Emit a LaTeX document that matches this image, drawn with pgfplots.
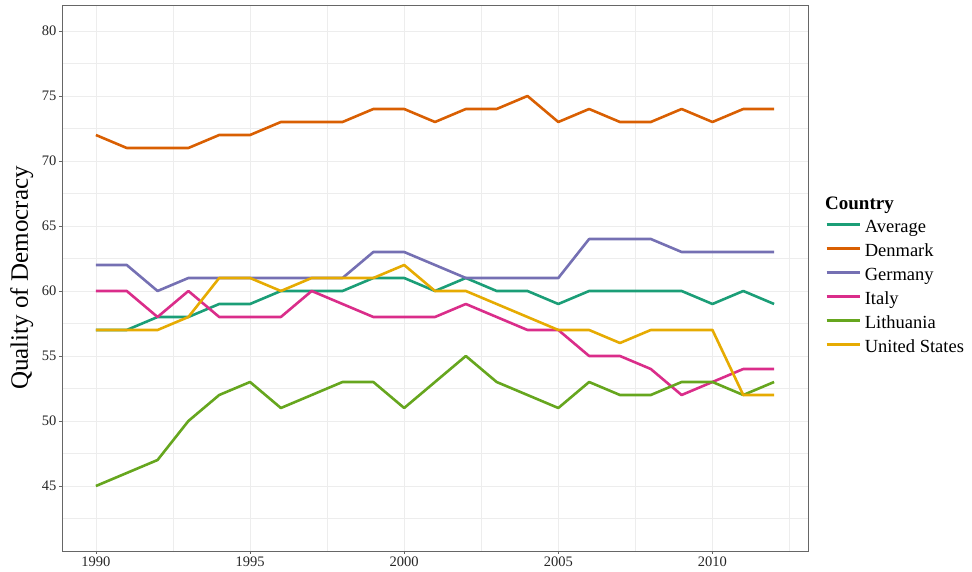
\documentclass[border=0pt]{standalone}
\usepackage{pgfplots}
\pgfplotsset{compat=1.18}
\usepackage{fontspec}
\setmainfont{Liberation Serif}
\definecolor{cavg}{HTML}{1B9E77}
\definecolor{cden}{HTML}{D95F02}
\definecolor{cger}{HTML}{7570B3}
\definecolor{cita}{HTML}{DA2D8A}
\definecolor{clit}{HTML}{66A61E}
\definecolor{cusa}{HTML}{E6AB02}
\pgfplotstableread{
year avg den ger ita lit usa
1990 57 72 62 60 45 57
1991 57 71 62 60 46 57
1992 58 71 60 58 47 57
1993 58 71 61 60 50 58
1994 59 72 61 58 52 61
1995 59 72 61 58 53 61
1996 60 73 61 58 51 60
1997 60 73 61 60 52 61
1998 60 73 61 59 53 61
1999 61 74 63 58 53 61
2000 61 74 63 58 51 62
2001 60 73 62 58 53 60
2002 61 74 61 59 55 60
2003 60 74 61 58 53 59
2004 60 75 61 57 52 58
2005 59 73 61 57 51 57
2006 60 74 64 55 53 57
2007 60 73 64 55 52 56
2008 60 73 64 54 52 57
2009 60 74 63 52 53 57
2010 59 73 63 53 53 57
2011 60 74 63 54 52 52
2012 59 74 63 54 53 52
}\data
\begin{document}
\begin{tikzpicture}
\path[use as bounding box] (0,0) rectangle (972pt,572pt);
\begin{axis}[
  at={(62pt,21pt)}, anchor=south west,
  scale only axis, width=746pt, height=546pt,
  xmin=1988.9, xmax=2013.1, ymin=40, ymax=82,
  xtick={1990,1995,2000,2005,2010},
  ytick={45,50,55,60,65,70,75,80},
  minor xtick={1992.5,1997.5,2002.5,2007.5,2012.5},
  minor ytick={42.5,47.5,52.5,57.5,62.5,67.5,72.5,77.5},
  grid=both,
  major grid style={black!7, line width=0.8pt},
  minor grid style={black!7, line width=0.6pt},
  axis line style={black!60, line width=0.9pt},
  tick style={black!60, line width=0.8pt},
  tick align=outside, major tick length=3pt, minor tick length=0pt,
  xtick pos=bottom, ytick pos=left,
  /pgf/number format/1000 sep={},
  /pgf/number format/assume math mode=true,
  tick label style={font=\fontsize{14.5}{16}\selectfont, black!85},
  xticklabel style={yshift=1pt},
  yticklabel style={xshift=1pt},
  ylabel={Quality of Democracy},
  ylabel style={font=\fontsize{25}{28}\selectfont, at={(axis description cs:-0.054,0.5)}, anchor=center},
  legend style={at={(axis description cs:1.0228,0.607)}, anchor=north west, draw=none, fill=none,
    font=\fontsize{18.5}{20}\selectfont, row sep=7pt, inner sep=0pt,
    nodes={inner sep=0pt, text height=13pt, text depth=4pt},
    /tikz/every odd column/.append style={column sep=4pt}},
  legend cell align=left,
  legend image code/.code={\draw[#1, line width=2.6pt] (0pt,3.5pt) -- (33pt,3.5pt);},
  every axis plot/.append style={line width=2.6pt, line join=round},
  clip=false,
]
\addplot[cavg] table[x=year,y=avg]{\data};
\addplot[cden] table[x=year,y=den]{\data};
\addplot[cger] table[x=year,y=ger]{\data};
\addplot[cita] table[x=year,y=ita]{\data};
\addplot[clit] table[x=year,y=lit]{\data};
\addplot[cusa] table[x=year,y=usa]{\data};
\legend{Average,Denmark,Germany,Italy,Lithuania,United States}
\node[anchor=base west, inner sep=0pt, font=\fontsize{19}{21}\selectfont\bfseries] at (axis description cs:1.0228,0.626) {Country};
\end{axis}
\end{tikzpicture}
\end{document}
